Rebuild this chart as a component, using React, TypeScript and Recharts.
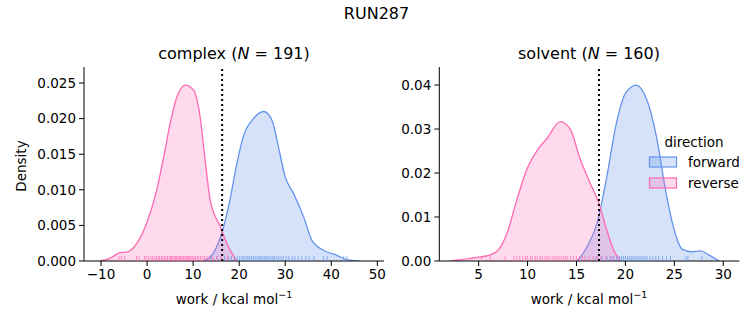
import React from 'react';
import { ComposedChart, Area, Scatter, XAxis, YAxis, ReferenceLine } from 'recharts';

const FONT = 'DejaVu Sans, sans-serif';
const BLUE = '#6495ED';
const PINK = '#FF69B4';

// complex panel KDE curves (x: work, d: density)
const complexReverseX = [-10.2, -8.0, -6.2, -4.1, -2.2, -0.1, 2.1, 3.6, 5.0, 6.5, 8.3, 10.1, 11.5, 12.6, 13.7, 15.9, 17.3, 19.5];
const complexReverseD = [0, 0.0004, 0.0011, 0.0013, 0.0025, 0.0053, 0.0100, 0.0146, 0.0193, 0.0231, 0.0247, 0.0240, 0.0203, 0.0142, 0.0086, 0.0048, 0.0025, 0];
const complexForwardX = [12.2, 14.4, 16.2, 18.0, 19.5, 20.9, 23.1, 25.3, 27.1, 28.5, 30.0, 31.8, 34.0, 35.8, 38.3, 41.2, 43.4, 46.0];
const complexForwardD = [0, 0.0011, 0.0039, 0.0086, 0.0137, 0.0175, 0.0200, 0.0210, 0.0198, 0.0161, 0.0118, 0.0095, 0.0062, 0.0029, 0.0015, 0.0008, 0.0002, 0];

// solvent panel KDE curves
const solventReverseX = [2.1, 4.8, 6.2, 7.0, 7.9, 8.9, 9.9, 11.0, 12.0, 13.35, 14.4, 15.4, 16.4, 17.3, 18.1, 18.8, 19.5];
const solventReverseD = [0, 0.0008, 0.0014, 0.0025, 0.0063, 0.0139, 0.0207, 0.0252, 0.0279, 0.0317, 0.0298, 0.0230, 0.0177, 0.0131, 0.0070, 0.0025, 0];
const solventForwardX = [15.1, 16.1, 17.1, 18.1, 19.0, 20.0, 21.1, 22.2, 23.3, 24.1, 25.0, 25.8, 26.8, 27.7, 28.5, 29.6];
const solventForwardD = [0, 0.0033, 0.0086, 0.0192, 0.0305, 0.0381, 0.0400, 0.0366, 0.0268, 0.0161, 0.0070, 0.0027, 0.0021, 0.0023, 0.0014, 0];

// rug values
const complexReverseRug = [-6.1, -5.6, -4.9, -2.3, -1.8, -0.6, -0.2, 0.3, 0.8, 1.2, 1.6, 2.0, 2.4, 2.7, 3.1, 3.4, 3.8, 4.1, 4.4, 4.8, 5.1, 5.3, 5.6, 5.9, 6.2, 6.4, 6.7, 7.0, 7.2, 7.5, 7.8, 8.0, 8.3, 8.5, 8.8, 9.0, 9.3, 9.6, 9.9, 10.2, 10.5, 10.9, 11.2, 11.6, 12.1, 12.5, 13.0, 13.6, 14.3, 15.1, 16.0, 17.4];
const complexForwardRug = [13.9, 15.2, 16.8, 17.6, 18.3, 19.0, 19.6, 20.1, 20.6, 21.0, 21.5, 21.9, 22.3, 22.7, 23.1, 23.5, 23.9, 24.3, 24.6, 25.0, 25.4, 25.7, 26.1, 26.5, 26.9, 27.3, 27.7, 28.2, 28.6, 29.1, 29.6, 30.2, 30.8, 31.5, 32.1, 32.8, 33.6, 34.5, 35.2, 36.2, 38.3, 39.1, 42.7, 43.4];
const solventReverseRug = [5.3, 6.2, 7.7, 8.6, 8.9, 9.2, 9.5, 9.8, 10.0, 10.3, 10.5, 10.8, 11.0, 11.3, 11.5, 11.8, 12.0, 12.2, 12.5, 12.7, 12.9, 13.1, 13.3, 13.5, 13.7, 13.9, 14.1, 14.4, 14.7, 15.0, 15.3, 15.6, 15.9, 16.3, 16.7, 17.1, 17.5, 18.0, 18.6];
const solventForwardRug = [17.0, 17.6, 18.1, 18.5, 18.8, 19.1, 19.4, 19.6, 19.8, 20.0, 20.2, 20.4, 20.6, 20.8, 21.0, 21.2, 21.4, 21.6, 21.8, 22.0, 22.2, 22.5, 22.8, 23.1, 23.4, 23.8, 24.2, 24.6, 26.2, 26.4, 27.8];

// ticks
const complexXTicks = [-10, 0, 10, 20, 30, 40, 50];
const complexYTicks = [0, 0.005, 0.01, 0.015, 0.02, 0.025];
const solventXTicks = [5, 10, 15, 20, 25, 30];
const solventYTicks = [0, 0.01, 0.02, 0.03, 0.04];

const complexCut = 16.3;
const solventCut = 17.3;

const toPts = (xs: number[], ds: number[]) => xs.map((x, i) => ({ x, d: ds[i] }));
const toRug = (xs: number[]) => xs.map((x) => ({ x, d: 0 }));

const makeRug = (color: string) => (props: any) => {
  const { cx, cy } = props;
  if (cx == null || cy == null) return <g />;
  return <line x1={cx} x2={cx} y1={cy} y2={cy - 5} stroke={color} strokeOpacity={0.7} strokeWidth={1} />;
};

const tickStyle = { fill: '#000', fontSize: 13.5, fontFamily: FONT };

type PanelProps = {
  left: number;
  width: number;
  margin: { top: number; right: number; bottom: number; left: number };
  yWidth: number;
  xDomain: [number, number];
  yDomain: [number, number];
  xTicks: number[];
  yTicks: number[];
  yDigits: number;
  fwd: { x: number; d: number }[];
  rev: { x: number; d: number }[];
  fwdRug: { x: number; d: number }[];
  revRug: { x: number; d: number }[];
  cut: number;
};

const Panel = (p: PanelProps) => (
  <div style={{ position: 'absolute', left: p.left, top: 0 }}>
    <ComposedChart width={p.width} height={325} margin={p.margin}>
      <XAxis
        dataKey="x"
        type="number"
        domain={p.xDomain}
        ticks={p.xTicks}
        allowDataOverflow
        height={40}
        tick={tickStyle}
        tickSize={5}
        tickMargin={3}
        stroke="#000"
        tickFormatter={(v: number) => (v < 0 ? '\u2212' + Math.abs(v) : String(v))}
      />
      <YAxis
        dataKey="d"
        type="number"
        domain={p.yDomain}
        ticks={p.yTicks}
        allowDataOverflow
        width={p.yWidth}
        tick={tickStyle}
        tickSize={5}
        tickMargin={3}
        stroke="#000"
        tickFormatter={(v: number) => v.toFixed(p.yDigits)}
      />
      <Area data={p.fwd} dataKey="d" type="monotone" stroke={BLUE} strokeWidth={1.3} fill={BLUE} fillOpacity={0.27} isAnimationActive={false} dot={false} activeDot={false} />
      <Area data={p.rev} dataKey="d" type="monotone" stroke={PINK} strokeWidth={1.3} fill={PINK} fillOpacity={0.25} isAnimationActive={false} dot={false} activeDot={false} />
      <Scatter data={p.fwdRug} dataKey="d" shape={makeRug(BLUE)} isAnimationActive={false} />
      <Scatter data={p.revRug} dataKey="d" shape={makeRug(PINK)} isAnimationActive={false} />
      <ReferenceLine x={p.cut} stroke="#000" strokeWidth={2} strokeDasharray="2 3" />
    </ComposedChart>
  </div>
);

export default function App() {
  return (
    <div style={{ position: 'absolute', left: 0, top: 0, width: 753, height: 325, background: '#fff', fontFamily: FONT }}>
      <Panel
        left={0}
        width={390}
        margin={{ top: 67, right: 6, bottom: 24, left: 14 }}
        yWidth={70}
        xDomain={[-13.7, 51.45]}
        yDomain={[0, 0.02725]}
        xTicks={complexXTicks}
        yTicks={complexYTicks}
        yDigits={3}
        fwd={toPts(complexForwardX, complexForwardD)}
        rev={toPts(complexReverseX, complexReverseD)}
        fwdRug={toRug(complexForwardRug)}
        revRug={toRug(complexReverseRug)}
        cut={complexCut}
      />
      <Panel
        left={380}
        width={373}
        margin={{ top: 67, right: 13.7, bottom: 24, left: 9.3 }}
        yWidth={50}
        xDomain={[0.98, 31.64]}
        yDomain={[0, 0.0441]}
        xTicks={solventXTicks}
        yTicks={solventYTicks}
        yDigits={2}
        fwd={toPts(solventForwardX, solventForwardD)}
        rev={toPts(solventReverseX, solventReverseD)}
        fwdRug={toRug(solventForwardRug)}
        revRug={toRug(solventReverseRug)}
        cut={solventCut}
      />
      <svg width={753} height={325} style={{ position: 'absolute', left: 0, top: 0, pointerEvents: 'none' }}>
        <g fontFamily={FONT} fill="#000">
          <text x={376.5} y={19} fontSize={16} textAnchor="middle">RUN287</text>
          <text x={234} y={59} fontSize={16} textAnchor="middle">
            complex (<tspan fontStyle="italic">N</tspan> = 191)
          </text>
          <text x={589} y={59} fontSize={16} textAnchor="middle">
            solvent (<tspan fontStyle="italic">N</tspan> = 160)
          </text>
          <text x={234} y={304} fontSize={13.5} textAnchor="middle">
            work / kcal mol<tspan fontSize={9.5} dy={-6}>{'\u22121'}</tspan>
          </text>
          <text x={589} y={304} fontSize={13.5} textAnchor="middle">
            work / kcal mol<tspan fontSize={9.5} dy={-6}>{'\u22121'}</tspan>
          </text>
          <text x={26} y={166} fontSize={13.5} textAnchor="middle" transform="rotate(-90 26 166)">Density</text>
          <text x={694} y={147} fontSize={13.5} textAnchor="middle">direction</text>
          <rect x={649.5} y={157} width={27} height={10} fill={BLUE} fillOpacity={0.27} stroke={BLUE} strokeWidth={1.2} />
          <rect x={649.5} y={178} width={27} height={10} fill={PINK} fillOpacity={0.25} stroke={PINK} strokeWidth={1.2} />
          <text x={688} y={167} fontSize={13.5}>forward</text>
          <text x={688} y={188} fontSize={13.5}>reverse</text>
        </g>
      </svg>
    </div>
  );
}
